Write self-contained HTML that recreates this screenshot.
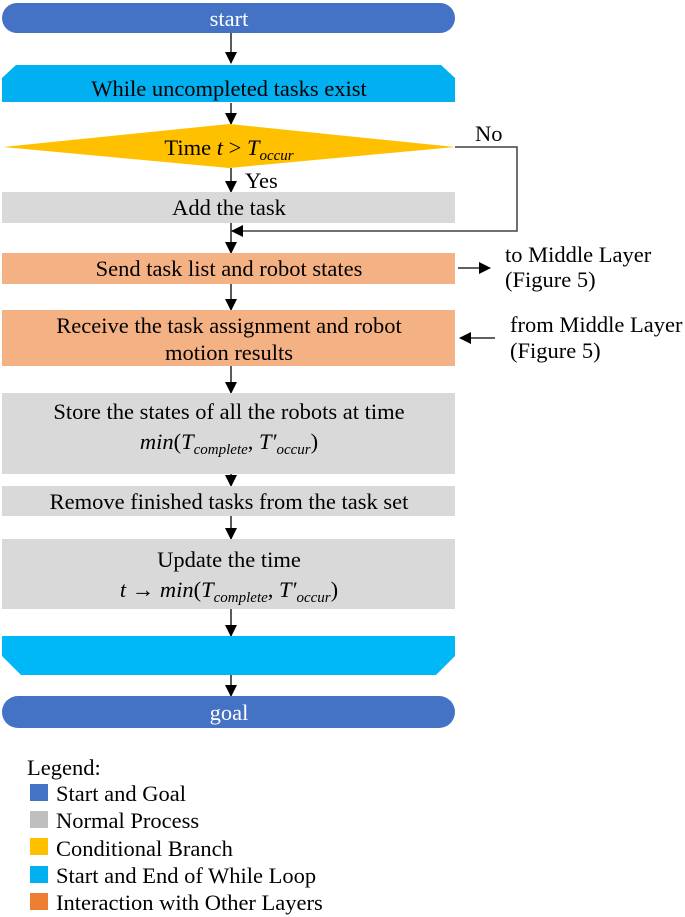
<!DOCTYPE html>
<html><head><meta charset="utf-8"><style>
html,body{margin:0;padding:0;background:#fff}
svg{display:block}
text{font-family:"Liberation Serif",serif;font-size:22.5px}
.c{text-anchor:middle}
.m{font-style:italic}
</style></head><body>
<svg width="685" height="917" viewBox="0 0 685 917" xmlns="http://www.w3.org/2000/svg">
<defs><marker id="b" markerWidth="12" markerHeight="12" refX="11" refY="6" orient="auto" markerUnits="userSpaceOnUse"><path d="M0,0 L12,6 L0,12 Z" fill="#000"/></marker></defs>
<g stroke="#000" stroke-width="1.3" marker-end="url(#b)">
<line x1="231" y1="33" x2="231" y2="63"/>
<line x1="231" y1="103" x2="231" y2="124"/>
<line x1="231" y1="168" x2="231" y2="192"/>
<line x1="231" y1="223" x2="231" y2="253"/>
<line x1="231" y1="284" x2="231" y2="310"/>
<line x1="231" y1="366" x2="231" y2="393"/>
<line x1="231" y1="474" x2="231" y2="486"/>
<line x1="231" y1="516" x2="231" y2="539"/>
<line x1="231" y1="609" x2="231" y2="636"/>
<line x1="231" y1="675" x2="231" y2="696"/>
<line x1="458" y1="268" x2="490" y2="268"/>
<line x1="495" y1="338" x2="460" y2="338"/>
</g>
<polyline points="455,147 517,147 517,231 232,231" fill="none" stroke="#404040" stroke-width="1.5" marker-end="url(#b)"/>
<rect x="2" y="3" width="453" height="30" rx="15" fill="#4472C4"/>
<text x="229" y="26" class="c" fill="#fff">start</text>
<polygon points="16,65 441,65 455,78 455,102 2,102 2,78" fill="#00B0F0"/>
<text x="229" y="96" class="c">While uncompleted tasks exist</text>
<polygon points="3,147 229,124 455,147 229,168" fill="#FFC000"/>
<text x="229" y="155" class="c">Time <tspan class="m">t</tspan>  &gt; <tspan class="m">T</tspan><tspan class="m" font-size="15" dy="5">occur</tspan></text>
<text x="475" y="141">No</text>
<text x="245" y="188">Yes</text>
<rect x="2" y="192" width="453" height="31" fill="#D9D9D9"/>
<text x="229" y="215" class="c">Add the task</text>
<rect x="2" y="253" width="453" height="31" fill="#F4B183"/>
<text x="229" y="276" class="c">Send task list and robot states</text>
<text x="505" y="262">to Middle Layer</text>
<text x="505" y="287">(Figure 5)</text>
<rect x="2" y="310" width="453" height="56" fill="#F4B183"/>
<text x="229" y="333" class="c">Receive the task assignment and robot</text>
<text x="229" y="360" class="c">motion results</text>
<text x="510" y="332">from Middle Layer</text>
<text x="510" y="358">(Figure 5)</text>
<rect x="2" y="393" width="453" height="81" fill="#D9D9D9"/>
<text x="229" y="419" class="c">Store the states of all the robots at time</text>
<text x="229" y="449" class="c"><tspan class="m">min</tspan>(<tspan class="m">T</tspan><tspan class="m" font-size="15" dy="5">complete</tspan><tspan dy="-5">, </tspan><tspan class="m">T′</tspan><tspan class="m" font-size="15" dy="5">occur</tspan><tspan dy="-5">)</tspan></text>
<rect x="2" y="486" width="453" height="30" fill="#D9D9D9"/>
<text x="229" y="509" class="c">Remove finished tasks from the task set</text>
<rect x="2" y="539" width="453" height="70" fill="#D9D9D9"/>
<text x="229" y="567" class="c">Update the time</text>
<text x="229" y="597" class="c"><tspan class="m">t</tspan>  → <tspan class="m">min</tspan>(<tspan class="m">T</tspan><tspan class="m" font-size="15" dy="5">complete</tspan><tspan dy="-5">, </tspan><tspan class="m">T′</tspan><tspan class="m" font-size="15" dy="5">occur</tspan><tspan dy="-5">)</tspan></text>
<polygon points="2,636 455,636 455,656 436,675 21,675 2,656" fill="#00B8F8"/>
<rect x="2" y="696" width="453" height="32" rx="16" fill="#4472C4"/>
<text x="229" y="720" class="c" fill="#fff">goal</text>
<text x="27" y="775">Legend:</text>
<rect x="30" y="784" width="18" height="17" fill="#4472C4"/><text x="56" y="801">Start and Goal</text>
<rect x="30" y="811" width="18" height="17" fill="#BFBFBF"/><text x="56" y="828">Normal Process</text>
<rect x="30" y="838" width="18" height="17" fill="#FFC000"/><text x="56" y="856">Conditional Branch</text>
<rect x="30" y="866" width="18" height="17" fill="#00B0F0"/><text x="56" y="883">Start and End of While Loop</text>
<rect x="30" y="893" width="18" height="17" fill="#ED7D31"/><text x="56" y="910">Interaction with Other Layers</text>
</svg>
</body></html>
